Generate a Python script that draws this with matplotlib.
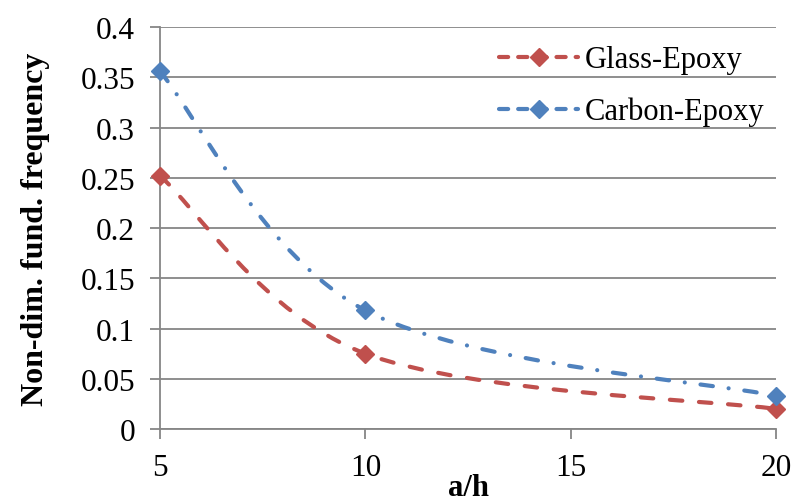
import matplotlib.pyplot as plt
from matplotlib.path import Path
from matplotlib.patches import PathPatch
from matplotlib.lines import Line2D

plt.rcParams['font.family'] = ['Liberation Serif', 'DejaVu Serif']

a_h = [5, 10, 20]
glass = [0.252, 0.075, 0.020]
carbon = [0.356, 0.118, 0.033]

RED = '#C0504D'
BLUE = '#4F81BD'


def smooth_path(xs, ys):
    # Excel-style smoothed line: cubic Bezier through the points
    pts = list(zip(xs, ys))
    n = len(pts)
    verts = [pts[0]]
    codes = [Path.MOVETO]
    for i in range(n - 1):
        p0 = pts[max(i - 1, 0)]
        p1 = pts[i]
        p2 = pts[i + 1]
        p3 = pts[min(i + 2, n - 1)]
        c1 = (p1[0] + (p2[0] - p0[0]) / 6, p1[1] + (p2[1] - p0[1]) / 6)
        c2 = (p2[0] - (p3[0] - p1[0]) / 6, p2[1] - (p3[1] - p1[1]) / 6)
        verts += [c1, c2, p2]
        codes += [Path.CURVE4] * 3
    return Path(verts, codes)


fig = plt.figure(figsize=(7.92, 5.02), dpi=100)
ax = fig.add_axes([0.202, 0.1434, 0.778, 0.8006])

lw = 3
glass_dash = (0, (3.0, 4.0))
carbon_dash = (0, (3.0, 3.8, 0.01, 3.8))

for ys, col, ls in [(glass, RED, glass_dash), (carbon, BLUE, carbon_dash)]:
    patch = PathPatch(smooth_path(a_h, ys), facecolor='none', edgecolor=col,
                      lw=lw, linestyle=ls, capstyle='round', zorder=3)
    ax.add_patch(patch)
    ax.plot(a_h, ys, linestyle='none', marker='D', markersize=9,
            color=col, zorder=4, clip_on=False)

ax.set_xlim(5, 20)
ax.set_ylim(0, 0.4)
ax.set_xticks([5, 10, 15, 20])
ax.set_yticks([0, 0.05, 0.1, 0.15, 0.2, 0.25, 0.3, 0.35, 0.4])
ax.set_yticklabels(['0', '0.05', '0.1', '0.15', '0.2', '0.25', '0.3', '0.35', '0.4'])
ax.tick_params(axis='both', labelsize=22.5, color='#868686', length=7, width=1.3)
ax.tick_params(axis='x', pad=10)
ax.tick_params(axis='y', pad=11)

ax.grid(axis='y', color='#868686', lw=1.3)
ax.set_axisbelow(True)
for s in ['top', 'right']:
    ax.spines[s].set_visible(False)
for s in ['left', 'bottom']:
    ax.spines[s].set_color('#868686')
    ax.spines[s].set_linewidth(1.3)

ax.set_xlabel('a/h', fontsize=22, fontweight='bold', labelpad=-6)
ax.set_ylabel('Non-dim. fund. frequency', fontsize=23, fontweight='bold', labelpad=22)

handles = [
    Line2D([], [], color=RED, lw=lw, linestyle=(0, (2.2, 2.4)), dash_capstyle='round',
           marker='D', markersize=9),
    Line2D([], [], color=BLUE, lw=lw, linestyle=(0, (2.2, 2.4)), dash_capstyle='round',
           marker='D', markersize=9),
]
ax.legend(handles, ['Glass-Epoxy', 'Carbon-Epoxy'], loc='upper right',
          bbox_to_anchor=(1.01, 1.0), frameon=False, fontsize=22,
          handlelength=2.6, handletextpad=0.2, labelspacing=0.73,
          borderaxespad=0.2)

fig.savefig('out.png', dpi=100)
